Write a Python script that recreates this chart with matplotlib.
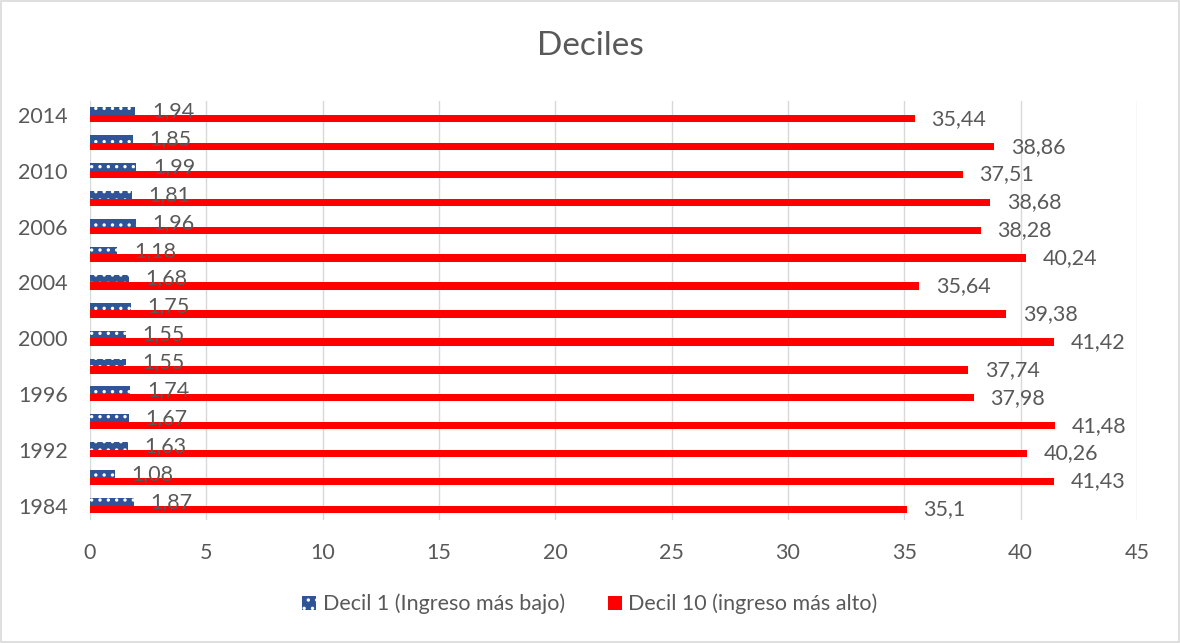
import matplotlib.pyplot as plt
import numpy as np
from matplotlib.patches import Rectangle

plt.rcParams['font.family'] = ['Lato', 'DejaVu Sans']
plt.rcParams['hatch.linewidth'] = 1.2

years = ['1984', '1989', '1992', '1994', '1996', '1998', '2000', '2002',
         '2004', '2005', '2006', '2008', '2010', '2012', '2014']
shown_labels = ['1984', '', '1992', '', '1996', '', '2000', '',
                '2004', '', '2006', '', '2010', '', '2014']
decil_1 = [1.87, 1.08, 1.63, 1.67, 1.74, 1.55, 1.55, 1.75,
           1.68, 1.18, 1.96, 1.81, 1.99, 1.85, 1.94]
decil_10 = [35.1, 41.43, 40.26, 41.48, 37.98, 37.74, 41.42, 39.38,
            35.64, 40.24, 38.28, 38.68, 37.51, 38.86, 35.44]

text_color = '#595959'
blue = '#2F5597'
red = '#FF0000'
fs = 15.5

fig = plt.figure(figsize=(11.8, 6.43), dpi=100)
ax = fig.add_axes([90 / 1180, 1 - 519.5 / 643, (1137 - 90) / 1180, (519.5 - 101) / 643])

y = np.arange(len(years))
h = 0.27
bars1 = ax.barh(y + h / 2, decil_1, height=h, color=blue, edgecolor='white',
                linewidth=0, hatch='..', label='Decil 1 (Ingreso más bajo)')
bars10 = ax.barh(y - h / 2, decil_10, height=h, color=red, linewidth=0,
                 label='Decil 10 (ingreso más alto)')

def fmt(v):
    return str(v).replace('.', ',')

for bar, v in zip(bars1, decil_1):
    ax.annotate(fmt(v), (bar.get_width(), bar.get_y() + bar.get_height() / 2),
                xytext=(12, 0), textcoords='offset points', ha='left', va='center',
                fontsize=fs, color=text_color)
for bar, v in zip(bars10, decil_10):
    ax.annotate(fmt(v), (bar.get_width(), bar.get_y() + bar.get_height() / 2),
                xytext=(12, 0), textcoords='offset points', ha='left', va='center',
                fontsize=fs, color=text_color)

ax.set_xlim(0, 45)
ax.set_ylim(-0.5, len(years) - 0.5)
ax.set_xticks(range(0, 50, 5))
ax.set_yticks(y)
ax.set_yticklabels(shown_labels)
ax.tick_params(axis='both', length=0, labelsize=fs, labelcolor=text_color)
ax.tick_params(axis='x', pad=17)
ax.tick_params(axis='y', pad=16)
ax.grid(axis='x', color='#D9D9D9', linewidth=1)
ax.set_axisbelow(True)
for s in ax.spines.values():
    s.set_visible(False)

fig.text(0.5, 1 - 46 / 643, 'Deciles', ha='center', va='center',
         fontsize=24, color=text_color)

fig.legend(loc='center', bbox_to_anchor=(0.5, 1 - 604 / 643), ncol=2, frameon=False,
           fontsize=fs, labelcolor=text_color, handlelength=0.65, handleheight=0.65,
           handletextpad=0.3, columnspacing=2.0)

fig.patches.append(Rectangle((0.001, 0.002), 0.998, 0.996, transform=fig.transFigure,
                             fill=False, edgecolor='#D9D9D9', linewidth=1.2))

fig.savefig('out.png', dpi=100)
